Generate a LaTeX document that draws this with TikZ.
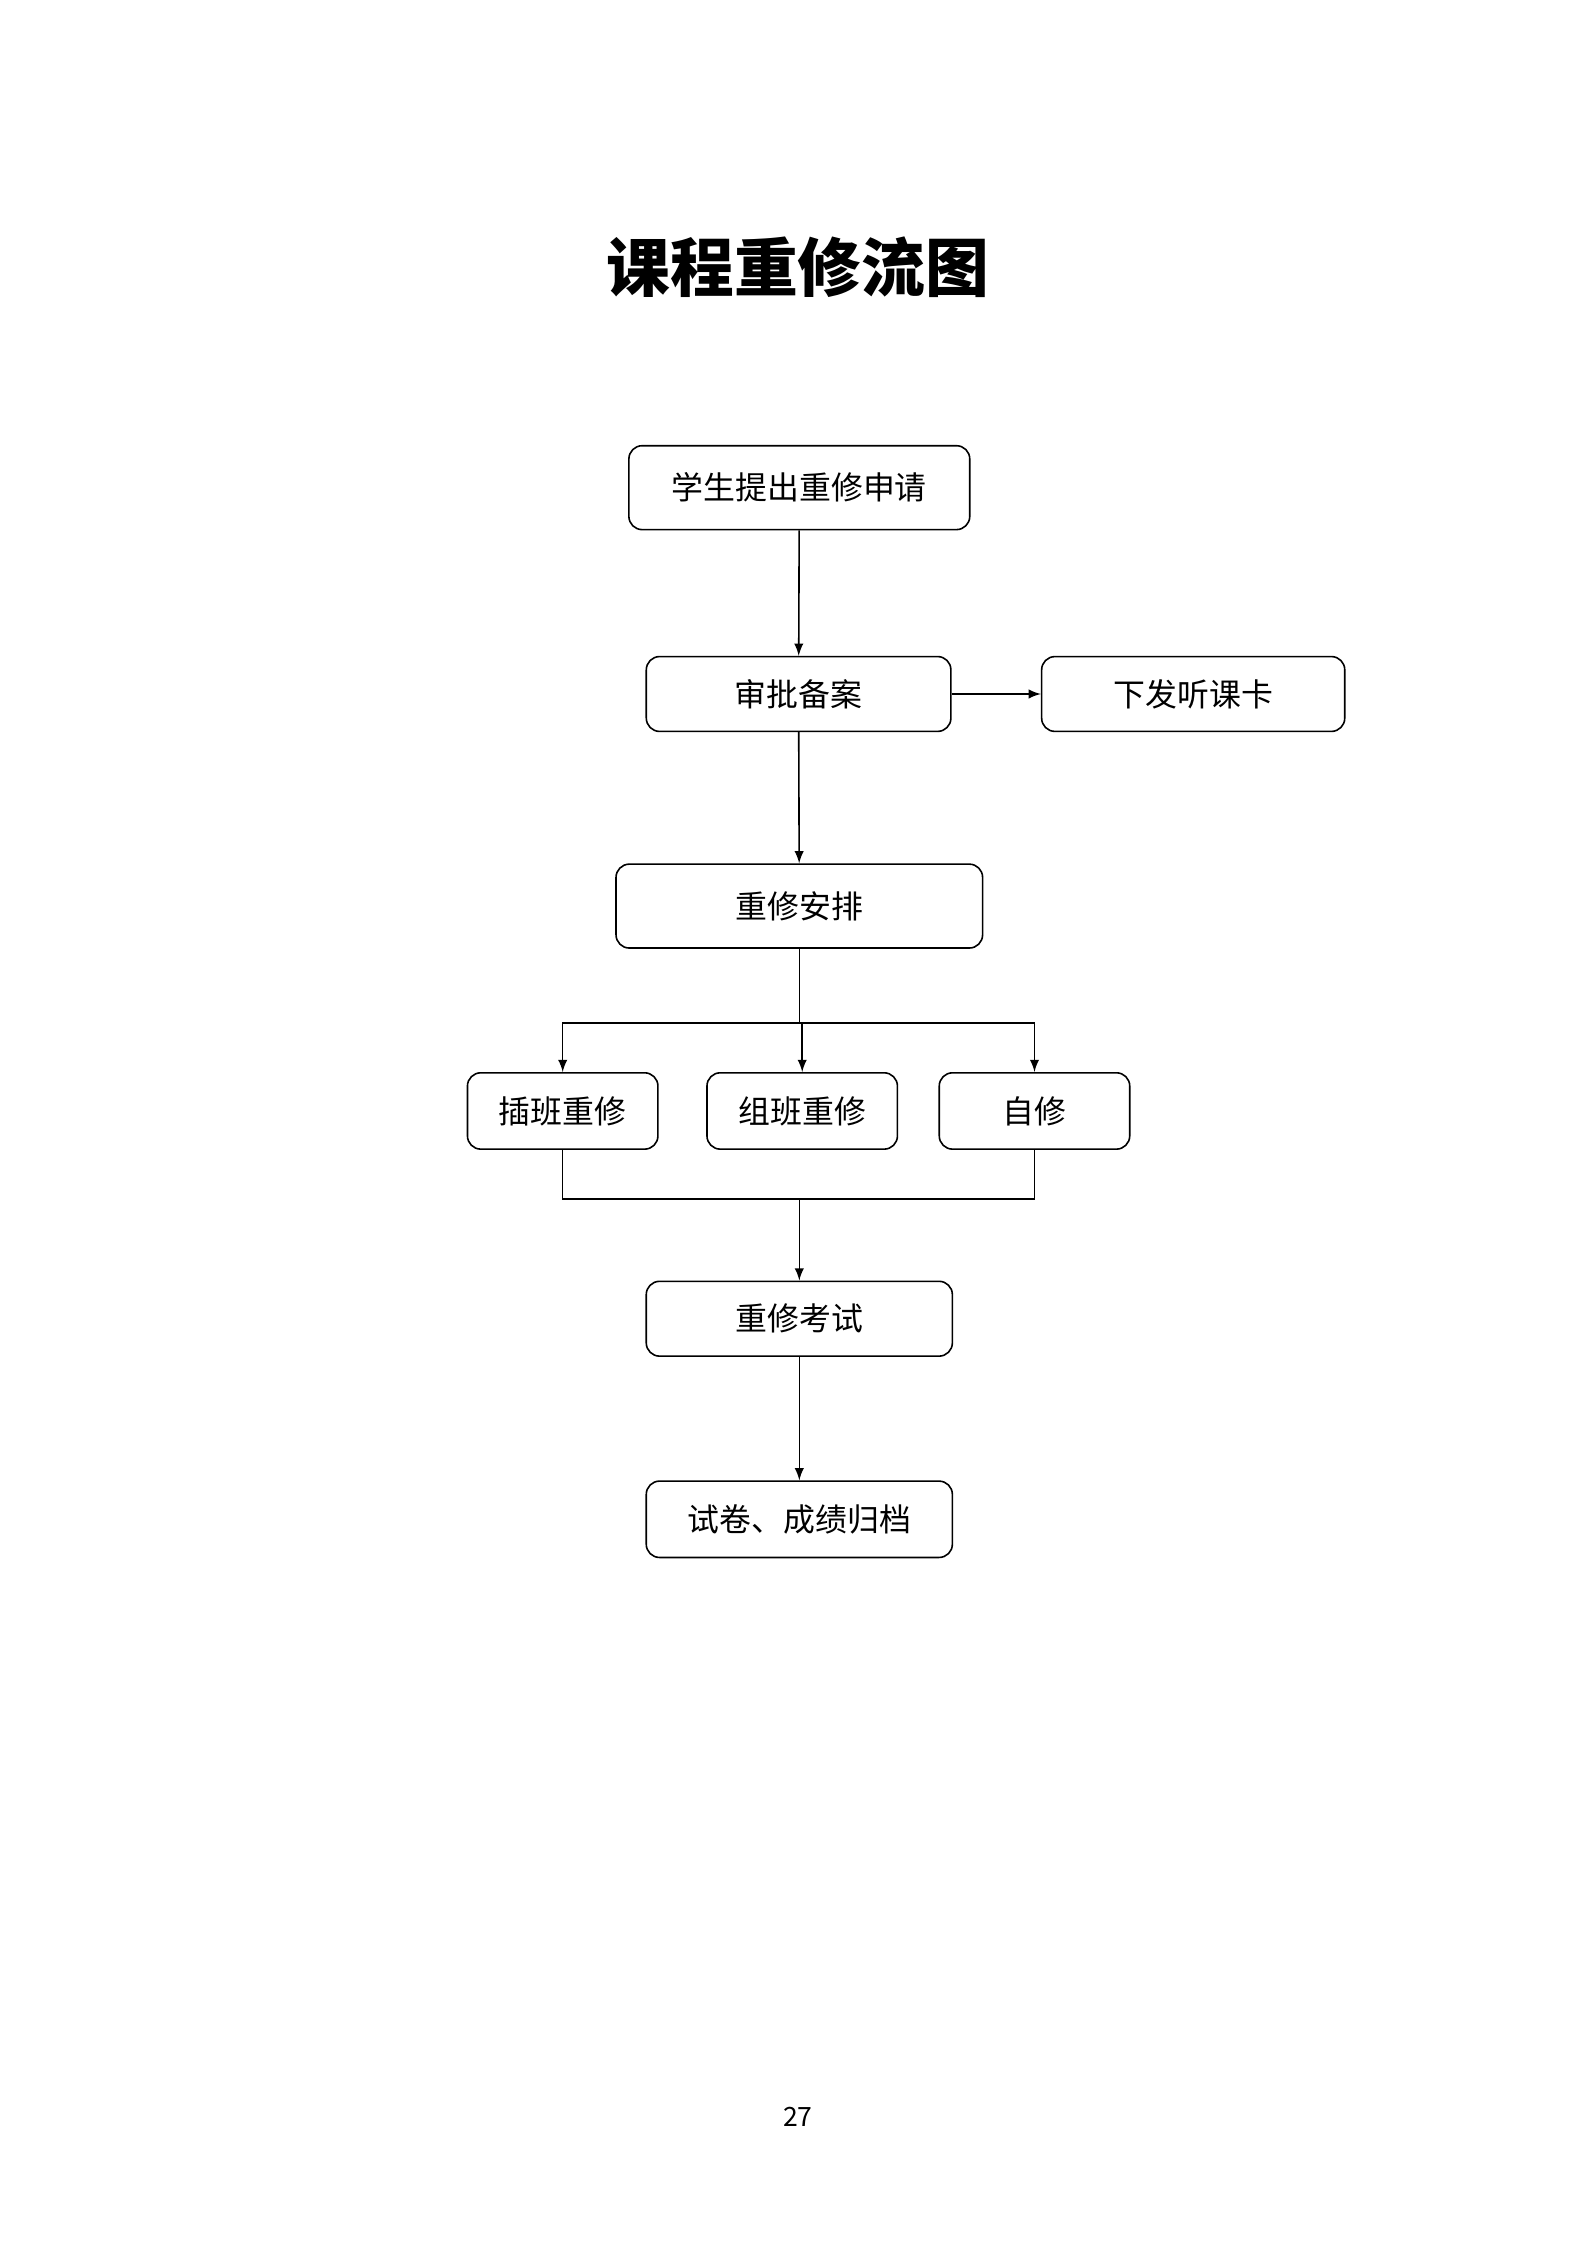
\documentclass[tikz,border=0pt]{standalone}
\usepackage{fontspec}
\setmainfont{Noto Sans CJK SC}
\usetikzlibrary{positioning,arrows}

\begin{document}
\begin{tikzpicture}[x={(0.01909cm,0)},y={(0,-0.01909cm)},->,>=latex,semithick,
  box/.style={draw,rounded corners=5pt,font=\fontsize{12}{14}\selectfont,inner sep=0pt}]
  \useasboundingbox (0,0) rectangle (1100,1556);
  \node (title) at (553,185) {\fontsize{24}{28}\selectfont\bfseries 课程重修流图};
  \node (page) at (553,1467) {\fontsize{10}{12}\selectfont 27};
  % main column
  \node[box,minimum width=4.51cm,minimum height=1.11cm] (apply) at (554,338) {学生提出重修申请};
  \node[box,minimum width=4.03cm,minimum height=0.99cm] (approve) at (553.5,481) {审批备案};
  \node[box,minimum width=4.01cm,minimum height=0.99cm] (card) at (827,481) {下发听课卡};
  \node[box,minimum width=4.85cm,minimum height=1.11cm] (arrange) at (554,628) {重修安排};
  \node[box,minimum width=2.52cm,minimum height=1.01cm] (insert) at (390,770) {插班重修};
  \node[box,minimum width=2.52cm,minimum height=1.01cm] (group) at (556,770) {组班重修};
  \node[box,minimum width=2.52cm,minimum height=1.01cm] (self) at (717,770) {自修};
  \node[box,minimum width=4.05cm,minimum height=0.99cm] (exam) at (554,914) {重修考试};
  \node[box,minimum width=4.05cm,minimum height=1.01cm] (archive) at (554,1053) {试卷、成绩归档};
  \coordinate (split) at (554,709);
  \coordinate (merge) at (554,831);

  \draw (apply) -- (approve);
  \draw (approve) -- (card);
  \draw (approve) -- (arrange);
  \draw[-] (arrange) -- (split);
  \draw (split) -| (insert);
  \draw (split) -- (split -| group.north) -- (group);
  \draw (split) -| (self);
  \draw[-] (insert) |- (merge);
  \draw[-] (self) |- (merge);
  \draw[-] (group.south |- merge) -- (merge);
  \draw (merge) -- (exam);
  \draw (exam) -- (archive);
\end{tikzpicture}
\end{document}
